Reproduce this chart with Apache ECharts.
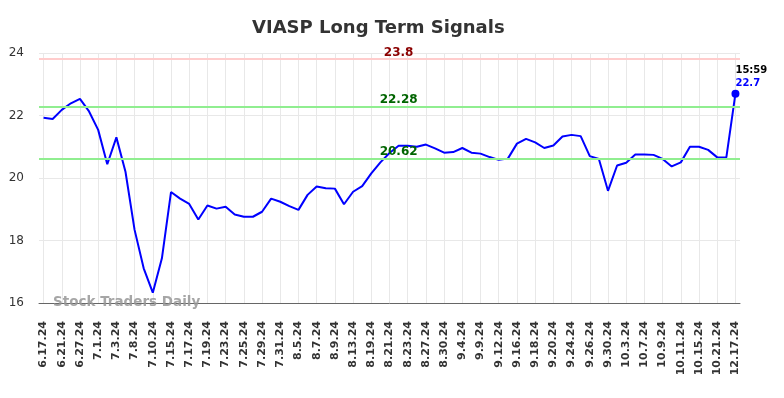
<!DOCTYPE html>
<html>
<head>
<meta charset="utf-8">
<script src="https://cdn.jsdelivr.net/npm/echarts@6/dist/echarts.min.js"></script>
<style>
html,body{margin:0;padding:0;background:#fff;}
#chart{width:784px;height:398px;}
</style>
</head>
<body>
<div id="chart"></div>
<script>
const titleText = 'VIASP Long Term Signals';
const categories = [
 '6.17.24','6.18.24','6.21.24','6.25.24','6.27.24','6.28.24','7.1.24','7.2.24','7.3.24','7.5.24',
 '7.8.24','7.9.24','7.10.24','7.12.24','7.15.24','7.16.24','7.17.24','7.18.24','7.19.24','7.22.24',
 '7.23.24','7.24.24','7.25.24','7.26.24','7.29.24','7.30.24','7.31.24','8.2.24','8.5.24','8.6.24',
 '8.7.24','8.8.24','8.9.24','8.12.24','8.13.24','8.16.24','8.19.24','8.20.24','8.21.24','8.22.24',
 '8.23.24','8.26.24','8.27.24','8.29.24','8.30.24','9.3.24','9.4.24','9.6.24','9.9.24','9.11.24',
 '9.12.24','9.13.24','9.16.24','9.17.24','9.18.24','9.19.24','9.20.24','9.23.24','9.24.24','9.25.24',
 '9.26.24','9.27.24','9.30.24','10.1.24','10.3.24','10.4.24','10.7.24','10.8.24','10.9.24','10.10.24',
 '10.11.24','10.14.24','10.15.24','10.18.24','10.21.24','10.22.24','12.17.24'
];
const prices = [
 21.93,21.89,22.18,22.39,22.53,22.13,21.54,20.44,21.30,20.20,
 18.34,17.11,16.33,17.43,19.55,19.34,19.17,18.67,19.12,19.02,
 19.08,18.83,18.76,18.76,18.92,19.34,19.24,19.10,18.98,19.46,
 19.73,19.67,19.66,19.16,19.56,19.74,20.15,20.50,20.80,21.03,
 21.03,21.00,21.07,20.95,20.81,20.83,20.96,20.81,20.78,20.67,
 20.58,20.62,21.10,21.25,21.14,20.96,21.04,21.33,21.38,21.34,
 20.70,20.61,19.59,20.40,20.49,20.75,20.75,20.74,20.61,20.37,
 20.50,21.00,21.00,20.90,20.66,20.66,22.70
];
const resistanceLevel = 23.8;
const signalLevels = [22.28, 20.62];
const lastTime = '15:59';
const yTicks = {min: 16, max: 24, interval: 2};
const watermarkText = 'Stock Traders Daily';

const labelIdx = 39.1;
const lastIdx = prices.length - 1;
const lastVal = prices[lastIdx];

const chart = echarts.init(document.getElementById('chart'), null, {renderer: 'canvas'});
const font = 'DejaVu Sans';

chart.setOption({
  animation: false,
  backgroundColor: '#fff',
  title: {
    text: titleText,
    left: 247,
    top: 14,
    textStyle: {fontFamily: font, fontSize: 18, fontWeight: 'bold', color: '#333'}
  },
  grid: {left: 39, right: 44, top: 53, bottom: 95, containLabel: false},
  xAxis: {
    type: 'category',
    data: categories,
    boundaryGap: true,
    axisLine: {show: true, lineStyle: {color: '#666', width: 1}},
    axisTick: {show: false},
    axisLabel: {
      interval: 1, rotate: 90, margin: 18,
      fontFamily: font, fontSize: 11, fontWeight: 'bold', color: '#333'
    },
    splitLine: {show: true, interval: 1, alignWithLabel: true, lineStyle: {color: '#e8e8e8', width: 1}}
  },
  yAxis: {
    type: 'value',
    min: yTicks.min, max: yTicks.max, interval: yTicks.interval,
    axisLine: {show: false},
    axisTick: {show: false},
    axisLabel: {margin: 15, padding: [5, 0, 0, 0], fontFamily: font, fontSize: 12, color: '#333'},
    splitLine: {show: true, lineStyle: {color: '#e8e8e8', width: 1}}
  },
  graphic: [{
    type: 'text',
    left: 53,
    top: 295,
    z: 10,
    style: {text: watermarkText, font: 'bold 13.5px "DejaVu Sans"', fill: 'rgba(150,150,150,0.85)'}
  }],
  series: [
    {
      type: 'line',
      data: [],
      z: 1,
      silent: true,
      markLine: {
        silent: true,
        symbol: ['none', 'none'],
        label: {show: false},
        data: [
          {yAxis: resistanceLevel, lineStyle: {color: '#ffcccc', width: 2, type: 'solid'}},
          {yAxis: signalLevels[0], lineStyle: {color: '#90ee90', width: 2, type: 'solid'}},
          {yAxis: signalLevels[1], lineStyle: {color: '#90ee90', width: 2, type: 'solid'}}
        ]
      }
    },
    {
      type: 'line',
      data: prices,
      z: 3,
      showSymbol: false,
      symbol: 'none',
      lineStyle: {color: '#0000ff', width: 2},
      itemStyle: {color: '#0000ff'},
      markPoint: {
        silent: true,
        data: [
          {
            coord: [lastIdx, lastVal], symbol: 'circle', symbolSize: 8,
            itemStyle: {color: '#0000ff'},
            label: {
              show: true, position: [4, -25],
              formatter: '{t|' + lastTime + '}\n{v|' + lastVal + '}',
              rich: {
                t: {fontFamily: font, fontSize: 10, fontWeight: 'bold', color: '#000', lineHeight: 12.5},
                v: {fontFamily: font, fontSize: 10, fontWeight: 'bold', color: '#0000ff', lineHeight: 12.5}
              }
            }
          },
          {
            coord: [labelIdx, resistanceLevel], symbol: 'circle', symbolSize: 0,
            label: {show: true, position: 'top', distance: 0, formatter: String(resistanceLevel),
              fontFamily: font, fontSize: 12, fontWeight: 'bold', color: '#8b0000'}
          },
          {
            coord: [labelIdx, signalLevels[0]], symbol: 'circle', symbolSize: 0,
            label: {show: true, position: 'top', distance: 1, formatter: String(signalLevels[0]),
              fontFamily: font, fontSize: 12, fontWeight: 'bold', color: '#006400'}
          },
          {
            coord: [labelIdx, signalLevels[1]], symbol: 'circle', symbolSize: 0,
            label: {show: true, position: 'top', distance: 1, formatter: String(signalLevels[1]),
              fontFamily: font, fontSize: 12, fontWeight: 'bold', color: '#006400'}
          }
        ]
      }
    }
  ]
});
</script>
</body>
</html>
